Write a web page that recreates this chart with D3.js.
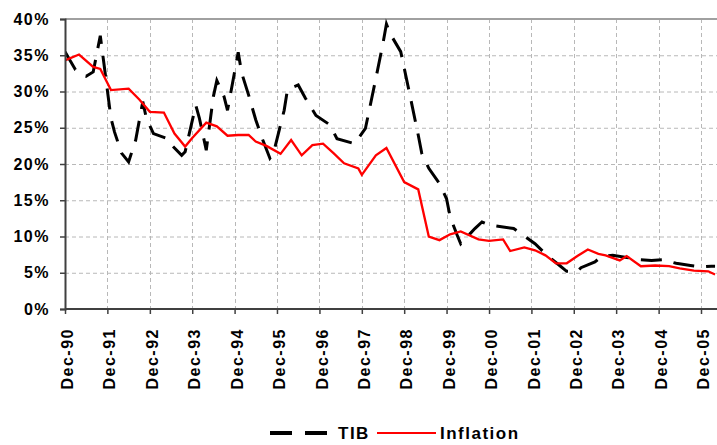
<!DOCTYPE html>
<html>
<head>
<meta charset="utf-8">
<script src="https://cdn.jsdelivr.net/npm/d3@7"></script>
<style>
  body { margin: 0; background: #fff; }
  text { font-family: Arial, "Liberation Sans", sans-serif; font-weight: bold; fill: #000; }
</style>
</head>
<body>
<div id="chart"></div>
<script>
// TIB series (month, rate %)
var tibDates = ["1990-12","1991-03","1991-06","1991-08","1991-10","1991-11","1992-01","1992-02","1992-04","1992-06",
  "1992-08","1992-10","1992-11","1993-01","1993-05","1993-06","1993-09","1993-10","1994-01","1994-02",
  "1994-04","1994-06","1994-07","1994-09","1994-10","1995-01","1995-02","1995-04","1995-06","1995-08",
  "1995-10","1995-11","1996-02","1996-03","1996-06","1996-08","1996-11","1997-03","1997-05","1997-10",
  "1998-01","1998-04","1998-06","1998-07","1998-08","1998-11","1999-01","1999-04","1999-05","1999-07",
  "1999-10","1999-12","2000-01","2000-03","2000-04","2000-08","2000-10","2000-12","2001-04","2001-07",
  "2001-09","2002-01","2002-04","2002-08","2002-10","2003-01","2003-02","2003-06","2003-08","2003-11",
  "2004-03","2004-07","2004-10","2005-01","2005-05","2005-09","2005-12","2006-03","2006-04"];
var tibValues = [35.5,33.0,32.1,32.7,37.7,33.9,26.3,24.4,21.5,20.3,
  23.3,28.6,26.3,24.2,23.5,22.7,21.2,21.7,28.1,26.3,
  21.9,29.3,31.5,29.3,27.4,35.4,32.5,29.5,26.1,23.3,
  20.8,21.5,27.4,30.3,30.9,29.1,26.7,25.4,23.5,22.8,
  24.9,31.8,36.6,39.3,38.0,35.5,30.9,24.0,21.5,19.4,
  17.3,15.2,12.7,10.2,9.0,11.1,12.0,11.6,11.3,11.1,
  10.4,9.0,7.6,6.0,5.2,5.2,5.7,6.5,7.3,7.4,
  7.1,6.8,6.7,6.8,6.3,6.0,5.8,5.9,5.9];

// Inflation series (month, rate %)
var infDates = ["1990-12","1991-04","1991-08","1991-10","1992-01","1992-06","1992-09","1992-12","1993-04","1993-07",
  "1993-10","1993-12","1994-04","1994-07","1994-10","1995-01","1995-04","1995-06","1995-09","1996-01",
  "1996-04","1996-07","1996-10","1997-01","1997-04","1997-07","1997-11","1997-12","1998-04","1998-07",
  "1998-12","1999-04","1999-07","1999-10","2000-01","2000-04","2000-09","2000-12","2001-04","2001-06",
  "2001-10","2002-01","2002-04","2002-07","2002-10","2003-01","2003-04","2003-07","2003-09","2004-01",
  "2004-03","2004-07","2004-11","2005-03","2005-06","2005-10","2006-02","2006-04"];
var infValues = [34.3,35.1,33.4,33.1,30.2,30.4,28.9,27.2,27.1,24.2,
  22.4,23.6,25.7,25.2,23.9,24.0,24.0,23.1,22.5,21.4,
  23.3,21.2,22.6,22.8,21.5,20.1,19.4,18.5,21.2,22.2,
  17.5,16.5,10.0,9.5,10.3,10.7,9.6,9.4,9.6,8.0,
  8.5,8.1,7.4,6.3,6.3,7.3,8.2,7.6,7.4,6.7,
  7.3,5.9,6.0,5.9,5.6,5.3,5.2,4.75];

var tickMonths = ["1990-12","1991-12","1992-12","1993-12","1994-12","1995-12","1996-12","1997-12",
  "1998-12","1999-12","2000-12","2001-12","2002-12","2003-12","2004-12","2005-12"];
var yTicks = [0, 5, 10, 15, 20, 25, 30, 35, 40];

var width = 717, height = 445;
var plot = { left: 65, top: 19, right: 717, bottom: 309 };

var parse = d3.timeParse("%Y-%m");

var svg = d3.select("#chart")
    .append("svg")
    .attr("width", width)
    .attr("height", height);

var x = d3.scaleTime()
    .domain([parse("1990-12"), parse("2005-12")])
    .range([plot.left, 701]);

var y = d3.scaleLinear()
    .domain([0, 40])
    .range([plot.bottom, plot.top]);

svg.append("clipPath")
    .attr("id", "clip")
    .append("rect")
    .attr("x", plot.left)
    .attr("y", 0)
    .attr("width", plot.right - plot.left)
    .attr("height", plot.bottom + 2);

// grid lines
svg.append("g")
    .selectAll("line")
    .data(yTicks.filter(function (d) { return d > 0 && d < 40; }))
    .enter().append("line")
    .attr("x1", plot.left).attr("x2", plot.right)
    .attr("y1", function (d) { return y(d) + 0.5; })
    .attr("y2", function (d) { return y(d) + 0.5; })
    .attr("stroke", "#b8b8b8")
    .attr("stroke-dasharray", "4,3");

svg.append("g")
    .selectAll("line")
    .data(tickMonths.slice(1))
    .enter().append("line")
    .attr("x1", function (d) { return Math.round(x(parse(d))) + 0.5; })
    .attr("x2", function (d) { return Math.round(x(parse(d))) + 0.5; })
    .attr("y1", plot.top).attr("y2", plot.bottom)
    .attr("stroke", "#b8b8b8")
    .attr("stroke-dasharray", "4,3");

// top border
svg.append("line")
    .attr("x1", plot.left).attr("x2", plot.right)
    .attr("y1", y(40)).attr("y2", y(40))
    .attr("stroke", "#a0a0a0")
    .attr("stroke-width", 2);

// lines
var line = d3.line()
    .x(function (d) { return x(d[0]); })
    .y(function (d) { return y(d[1]); });

var tibData = tibDates.map(function (d, i) { return [parse(d), tibValues[i]]; });
var infData = infDates.map(function (d, i) { return [parse(d), infValues[i]]; });

var lines = svg.append("g").attr("clip-path", "url(#clip)");

lines.append("path")
    .datum(tibData)
    .attr("fill", "none")
    .attr("stroke", "#000")
    .attr("stroke-width", 3)
    .attr("stroke-dasharray", "21,12")
    .attr("d", line);

lines.append("path")
    .datum(infData)
    .attr("fill", "none")
    .attr("stroke", "#ff0000")
    .attr("stroke-width", 2.3)
    .attr("d", line);

// Y axis
var yAxis = svg.append("g")
    .attr("transform", "translate(" + plot.left + ",0)")
    .call(d3.axisLeft(y)
        .tickValues(yTicks)
        .tickSize(5)
        .tickPadding(10)
        .tickFormat(function (d) { return d + "%"; }));

yAxis.select(".domain").attr("stroke", "#404040").attr("stroke-width", 2);
yAxis.selectAll(".tick line").attr("stroke", "#404040").attr("stroke-width", 1.5);
yAxis.selectAll(".tick text")
    .style("font-size", "16px")
    .style("letter-spacing", "1.5px")
    .attr("fill", "#000");

// X axis
var xAxis = svg.append("g")
    .attr("transform", "translate(0," + plot.bottom + ")")
    .call(d3.axisBottom(x)
        .tickValues(tickMonths.map(parse))
        .tickSize(5)
        .tickFormat(d3.timeFormat("%b-%y")));

xAxis.select(".domain")
    .attr("d", "M" + plot.left + ",0H" + plot.right)
    .attr("stroke", "#404040").attr("stroke-width", 2);
xAxis.selectAll(".tick line").attr("stroke", "#404040").attr("stroke-width", 1.5);
xAxis.selectAll(".tick text")
    .style("font-size", "16px")
    .style("letter-spacing", "1.5px")
    .attr("text-anchor", "end")
    .attr("transform", "rotate(-90)")
    .attr("x", -19)
    .attr("y", 2)
    .attr("dy", "0.35em")
    .attr("fill", "#000");

// legend
var legend = svg.append("g");

legend.append("line")
    .attr("x1", 270).attr("x2", 328)
    .attr("y1", 433).attr("y2", 433)
    .attr("stroke", "#000")
    .attr("stroke-width", 4)
    .attr("stroke-dasharray", "22,13");

legend.append("text")
    .attr("x", 338).attr("y", 439)
    .style("font-size", "17px")
    .style("letter-spacing", "1.5px")
    .text("TIB");

legend.append("line")
    .attr("x1", 377).attr("x2", 436)
    .attr("y1", 433).attr("y2", 433)
    .attr("stroke", "#ff0000")
    .attr("stroke-width", 2);

legend.append("text")
    .attr("x", 440).attr("y", 439)
    .style("font-size", "17px")
    .style("letter-spacing", "1.5px")
    .text("Inflation");
</script>
</body>
</html>
